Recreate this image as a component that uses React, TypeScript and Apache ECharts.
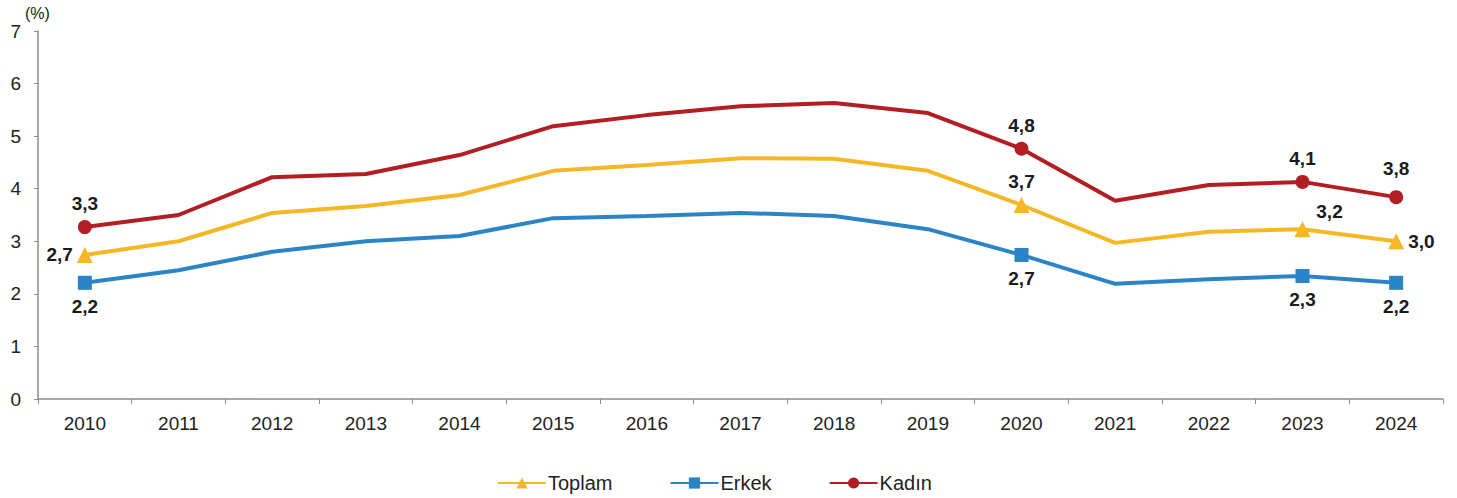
import React, { useEffect, useRef } from "react";
import * as echarts from "echarts";

const years = ["2010","2011","2012","2013","2014","2015","2016","2017","2018","2019","2020","2021","2022","2023","2024"];
const toplam = [2.74, 3.0, 3.54, 3.67, 3.88, 4.34, 4.45, 4.58, 4.57, 4.34, 3.69, 2.97, 3.18, 3.23, 3.0];
const erkek = [2.21, 2.45, 2.8, 3.0, 3.1, 3.44, 3.48, 3.54, 3.48, 3.23, 2.74, 2.19, 2.28, 2.34, 2.21];
const kadin = [3.27, 3.5, 4.22, 4.28, 4.64, 5.19, 5.4, 5.57, 5.63, 5.44, 4.76, 3.77, 4.07, 4.13, 3.84];
const labeledIdx = [0, 10, 13, 14];
const yTicks = [0, 1, 2, 3, 4, 5, 6, 7];

const fmt = (v: number) => v.toFixed(1).replace(".", ",");
const font = "Liberation Sans, Arial, sans-serif";

type LabelPos = { position: string; offset?: [number, number]; distance?: number };

function buildData(values: number[], symbol: string, size: number, pos: (i: number) => LabelPos) {
  return values.map((v, i) => {
    if (!labeledIdx.includes(i)) {
      return { value: v, symbol: "none", label: { show: false } };
    }
    const p = pos(i);
    return {
      value: v,
      symbol,
      symbolSize: size,
      label: {
        show: true,
        position: p.position,
        offset: p.offset || [0, 0],
        distance: p.distance ?? 6,
        formatter: () => fmt(v),
        fontFamily: font,
        fontWeight: "bold",
        fontSize: 19,
        color: "#1a1a1a",
      },
    };
  });
}

export default function App() {
  const ref = useRef<HTMLDivElement>(null);
  useEffect(() => {
    if (!ref.current) return;
    document.body.style.margin = "0";
    const chart = echarts.init(ref.current, undefined, { renderer: "svg" });
    chart.setOption({
      animation: false,
      backgroundColor: "#ffffff",
      textStyle: { fontFamily: font },
      grid: { left: 38, right: 14, top: 31, bottom: 99, containLabel: false },
      graphic: [
        {
          type: "text",
          left: 25,
          top: 5,
          style: { text: "(%)", font: "16px " + font, fill: "#222" },
        },
      ],
      legend: {
        top: 468,
        left: 492,
        itemWidth: 48,
        itemHeight: 14,
        itemGap: 57,
        textStyle: { fontSize: 20, color: "#222", fontFamily: font, padding: [0, 0, 0, -3] },
        data: ["Toplam", "Erkek", "Kadın"],
      },
      xAxis: {
        type: "category",
        data: years,
        boundaryGap: true,
        axisLine: { lineStyle: { color: "#8c8c8c", width: 1.5 } },
        axisTick: { show: true, length: 5, alignWithLabel: false, lineStyle: { color: "#8c8c8c" } },
        axisLabel: { fontSize: 19, color: "#222", margin: 15, fontFamily: font },
        splitLine: { show: false },
      },
      yAxis: {
        type: "value",
        min: yTicks[0],
        max: yTicks[yTicks.length - 1],
        interval: 1,
        axisLine: { show: true, lineStyle: { color: "#8c8c8c", width: 1.5 } },
        axisTick: { show: true, length: 4, lineStyle: { color: "#8c8c8c" } },
        axisLabel: { fontSize: 19, color: "#222", margin: 17, fontFamily: font },
        splitLine: { show: false },
      },
      series: [
        {
          name: "Toplam",
          type: "line",
          symbol: "triangle",
          symbolSize: 16,
          color: "#F6B727",
          lineStyle: { width: 4, color: "#F6B727" },
          itemStyle: { color: "#F6B727" },
          data: buildData(toplam, "triangle", 16, (i) => {
            if (i === 0) return { position: "left", distance: 4 };
            if (i === 13) return { position: "top", offset: [27, 6] };
            if (i === 14) return { position: "right", distance: 4 };
            return { position: "top" };
          }),
          z: 3,
        },
        {
          name: "Erkek",
          type: "line",
          symbol: "rect",
          symbolSize: 14,
          color: "#2B84C6",
          lineStyle: { width: 4, color: "#2B84C6" },
          itemStyle: { color: "#2B84C6" },
          data: buildData(erkek, "rect", 14, () => ({ position: "bottom", distance: 7 })),
          z: 2,
        },
        {
          name: "Kadın",
          type: "line",
          symbol: "circle",
          symbolSize: 14,
          color: "#B21E24",
          lineStyle: { width: 4, color: "#B21E24" },
          itemStyle: { color: "#B21E24" },
          data: buildData(kadin, "circle", 14, (i) => ({ position: "top", distance: i === 14 ? 12 : 7 })),
          z: 4,
        },
      ],
    });
    return () => chart.dispose();
  }, []);
  return <div ref={ref} style={{ width: 1457, height: 498 }} />;
}
